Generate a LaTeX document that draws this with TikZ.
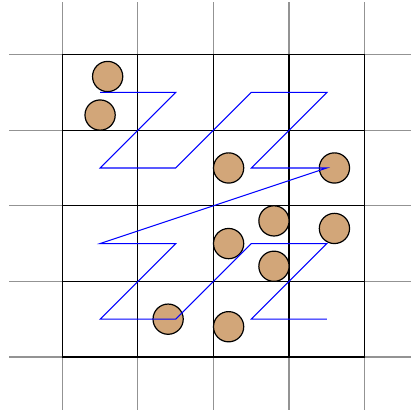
\documentclass[tikz,border=0pt]{standalone}
\begin{document}
\begin{tikzpicture}[x=1cm,y=1cm,
  outer/.style={draw=gray!85,line width=0.45pt},
  inner/.style={draw=black,line width=0.45pt},
  zcurve/.style={draw=blue,line width=0.4pt},
  pt/.style={circle,draw=black,fill={rgb,255:red,210;green,166;blue,121},line width=0.45pt,minimum size=0.4cm,inner sep=0pt}]
\useasboundingbox (-0.824,-0.728) rectangle (4.61,4.722);
% outer grey lines
\foreach \i in {0,...,4}{
  \draw[outer] (\i,-0.7) -- (\i,4.7);
  \draw[outer] (-0.7,\i) -- (4.7,\i);
}
% inner black grid
\draw[inner] (0,0) grid (4,4);
% sample points
\node[pt] (p1) at (0.6,3.71) {};
\node[pt] (p2) at (0.5,3.2) {};
\node[pt] (p3) at (2.2,2.5) {};
\node[pt] (p4) at (3.6,2.5) {};
\node[pt] (p5) at (2.8,1.8) {};
\node[pt] (p6) at (2.2,1.5) {};
\node[pt] (p7) at (3.6,1.7) {};
\node[pt] (p8) at (2.8,1.2) {};
\node[pt] (p9) at (2.2,0.4) {};
\node[pt] (p10) at (1.4,0.5) {};
% Z-order curve through cell centres
\coordinate (z1) at (0.5,3.5);
\coordinate (z2) at (1.5,3.5);
\coordinate (z3) at (0.5,2.5);
\coordinate (z4) at (1.5,2.5);
\coordinate (z5) at (2.5,3.5);
\coordinate (z6) at (3.5,3.5);
\coordinate (z7) at (2.5,2.5);
\coordinate (z8) at (3.5,2.5);
\coordinate (z9) at (0.5,1.5);
\coordinate (z10) at (1.5,1.5);
\coordinate (z11) at (0.5,0.5);
\coordinate (z12) at (1.5,0.5);
\coordinate (z13) at (2.5,1.5);
\coordinate (z14) at (3.5,1.5);
\coordinate (z15) at (2.5,0.5);
\coordinate (z16) at (3.5,0.5);
\draw[zcurve] (z1) -- (z2) -- (z3) -- (z4) -- (z5) -- (z6) -- (z7) -- (z8)
  -- (z9) -- (z10) -- (z11) -- (z12) -- (z13) -- (z14) -- (z15) -- (z16);
\end{tikzpicture}
\end{document}
